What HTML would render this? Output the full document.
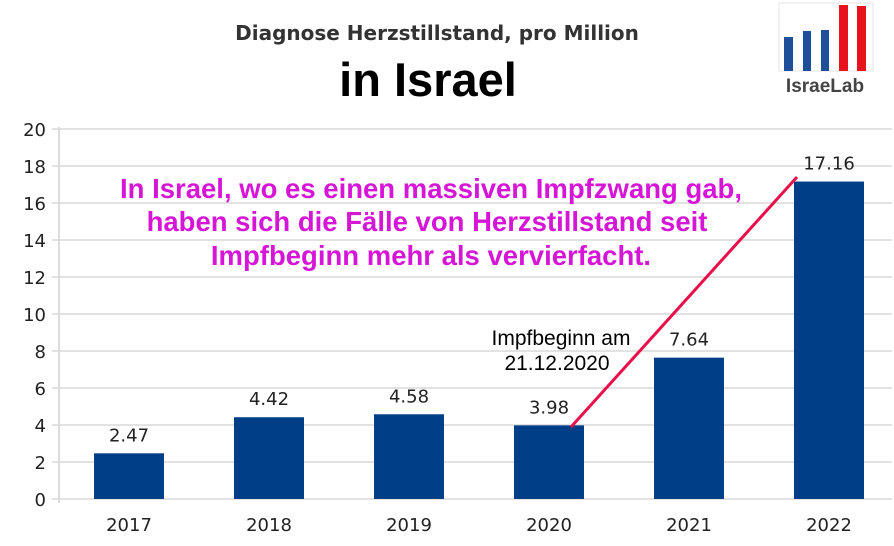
<!DOCTYPE html>
<html><head><meta charset="utf-8"><style>
body{margin:0;background:#fff;width:894px;height:541px;overflow:hidden;font-family:"Liberation Sans",sans-serif}
</style></head><body>
<svg width="894" height="541" xmlns="http://www.w3.org/2000/svg">
<text x="437" y="40" text-anchor="middle" font-size="20" font-weight="bold" fill="#333" font-family="DejaVu Sans, sans-serif">Diagnose Herzstillstand, pro Million</text>
<text x="428" y="96" text-anchor="middle" font-size="47" font-weight="bold" fill="#000">in Israel</text>
<g>
<rect x="779" y="3" width="94" height="68" fill="none" stroke="#e6e6e6"/>
<rect x="784" y="37" width="9" height="34" fill="#1f4f9a"/>
<rect x="803" y="31" width="8" height="40" fill="#1f4f9a"/>
<rect x="821" y="30" width="8" height="41" fill="#1f4f9a"/>
<rect x="839" y="5" width="9" height="66" fill="#e8141c"/>
<rect x="857" y="6" width="9" height="65" fill="#e8141c"/>
<text x="825" y="92" text-anchor="middle" font-size="19" font-weight="bold" fill="#444">IsraeLab</text>
</g>
<g id="grid"></g><g id="bars"></g>
<text x="431" y="198" text-anchor="middle" font-size="27.5" font-weight="bold" fill="#d616d6">In Israel, wo es einen massiven Impfzwang gab,</text>
<text x="427" y="231" text-anchor="middle" font-size="27.5" font-weight="bold" fill="#d616d6">haben sich die Fälle von Herzstillstand seit</text>
<text x="431" y="265" text-anchor="middle" font-size="27.5" font-weight="bold" fill="#d616d6">Impfbeginn mehr als vervierfacht.</text>
<text x="561" y="345" text-anchor="middle" font-size="21" fill="#000">Impfbeginn am</text>
<text x="557" y="370" text-anchor="middle" font-size="21" fill="#000">21.12.2020</text>
<line x1="571" y1="427" x2="797" y2="177" stroke="#e8104a" stroke-width="3"/>
</svg>
<script>
const categories=["2017","2018","2019","2020","2021","2022"];
const values=[2.47,4.42,4.58,3.98,7.64,17.16];
const valueLabels=["2.47","4.42","4.58","3.98","7.64","17.16"];
const yTicks=[0,2,4,6,8,10,12,14,16,18,20];
const NS="http://www.w3.org/2000/svg";
const y=v=>499-v*18.5;
const x=i=>129+i*140;
function mk(t,a,p){const e=document.createElementNS(NS,t);for(const k in a)e.setAttribute(k,a[k]);p.appendChild(e);return e;}
const g=document.getElementById('grid'),b=document.getElementById('bars');
mk('line',{x1:59,y1:127,x2:59,y2:503,stroke:'#d0d0d0','stroke-width':1.5},g);
yTicks.forEach(t=>{
 const l=mk('line',{x1:52,y1:y(t),x2:892,y2:y(t),stroke:'#d8d8d8','stroke-width':1.5},g);
 
 
 const tx=mk('text',{x:46,y:y(t)+7,'text-anchor':'end','font-size':18,fill:'#222','font-family':'DejaVu Sans, sans-serif'},g);
 tx.textContent=t;
 
 
});
categories.forEach((c,i)=>{
 const r=mk('rect',{x:x(i)-35,y:y(values[i]),width:70,height:y(0)-y(values[i]),fill:'#003f87'},b);
 
 
 const v=mk('text',{x:x(i),y:y(values[i])-12,'text-anchor':'middle','font-size':18,fill:'#222','font-family':'DejaVu Sans, sans-serif'},b);
 v.textContent=valueLabels[i];
 
 
 const cl=mk('text',{x:x(i),y:531,'text-anchor':'middle','font-size':18,fill:'#222','font-family':'DejaVu Sans, sans-serif'},b);
 cl.textContent=c;
 
 
});
</script>
</body></html>
